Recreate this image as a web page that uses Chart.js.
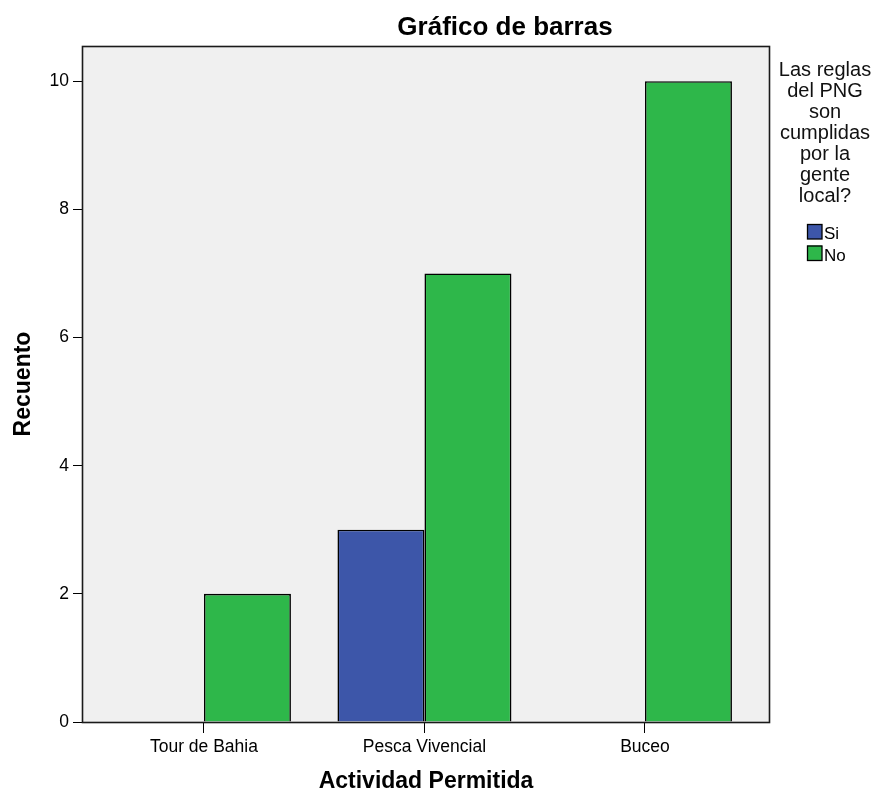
<!DOCTYPE html>
<html>
<head>
<meta charset="utf-8">
<script src="https://cdn.jsdelivr.net/npm/chart.js@4.4.0/dist/chart.umd.min.js"></script>
<style>
html,body{margin:0;padding:0;background:#fff;}
#c{display:block;}
</style>
</head>
<body>
<canvas id="c" width="880" height="793"></canvas>
<script>
// ---- data ----
const categories = ['Tour de Bahia', 'Pesca Vivencial', 'Buceo'];
const seriesLabels = ['Si', 'No'];
const siValues = [null, 3, null];
const noValues = [2, 7, 10];
const yTicks = [0, 2, 4, 6, 8, 10];
const chartTitle = 'Gráfico de barras';
const legendTitleLines = ['Las reglas', 'del PNG', 'son', 'cumplidas', 'por la', 'gente', 'local?'];
const xTitle = 'Actividad Permitida';
const yTitle = 'Recuento';

const FONT = '"Liberation Sans", Arial, Helvetica, sans-serif';
Chart.defaults.font.family = FONT;
Chart.defaults.color = '#000';

function toPoints(values) {
  return values.map((v, i) => ({ x: i, y: v })).filter(p => p.y !== null);
}

const decorPlugin = {
  id: 'decor',
  beforeDraw(chart) {
    const { ctx, chartArea: a } = chart;
    ctx.save();
    ctx.fillStyle = '#f0f0f0';
    ctx.fillRect(a.left, a.top, a.right - a.left, a.bottom - a.top);
    ctx.restore();
  },
  afterDatasetsDraw(chart) {
    const { ctx, chartArea: a } = chart;
    ctx.save();
    ctx.strokeStyle = '#1a1a1a';
    ctx.lineWidth = 1.6;
    ctx.strokeRect(a.left + 0.5, a.top + 0.5, a.right - a.left - 1, a.bottom - a.top);
    ctx.restore();
  },
  afterDraw(chart) {
    const { ctx, chartArea: a } = chart;
    ctx.save();
    // main title
    ctx.fillStyle = '#000';
    ctx.font = 'bold 26px ' + FONT;
    ctx.textAlign = 'center';
    ctx.textBaseline = 'alphabetic';
    ctx.fillText(chartTitle, 505, 35);
    // legend title
    const cx = a.right + 55;
    ctx.fillStyle = '#111';
    ctx.font = '20px ' + FONT;
    legendTitleLines.forEach((line, i) => {
      ctx.fillText(line, cx, 76 + i * 21);
    });
    // legend items
    ctx.font = '17px ' + FONT;
    ctx.textAlign = 'left';
    chart.data.datasets.forEach((ds, i) => {
      const top = 224 + i * 21.5;
      ctx.fillStyle = ds.backgroundColor;
      ctx.fillRect(807, top, 15, 15);
      ctx.strokeStyle = '#000';
      ctx.lineWidth = 1.3;
      ctx.strokeRect(807.5, top + 0.5, 14.5, 14.5);
      ctx.fillStyle = '#000';
      ctx.fillText(ds.label, 824, top + 15);
    });
    ctx.restore();
  }
};

new Chart(document.getElementById('c'), {
  type: 'bar',
  data: {
    datasets: [
      {
        label: seriesLabels[0],
        data: toPoints(siValues),
        backgroundColor: '#3d56a9',
        borderColor: '#000',
        borderWidth: 1.6,
        borderSkipped: 'start'
      },
      {
        label: seriesLabels[1],
        data: toPoints(noValues),
        backgroundColor: '#2eb74a',
        borderColor: '#000',
        borderWidth: 1.6,
        borderSkipped: 'start'
      }
    ]
  },
  options: {
    responsive: false,
    animation: false,
    devicePixelRatio: 1,
    layout: { padding: { top: 46, right: 110, left: 0, bottom: 0 } },
    datasets: { bar: { categoryPercentage: 0.789, barPercentage: 1.0 } },
    plugins: {
      legend: { display: false },
      title: { display: false },
      tooltip: { enabled: false }
    },
    scales: {
      x: {
        type: 'linear',
        min: -0.553,
        max: 2.567,
        offset: false,
        afterBuildTicks(s) { s.ticks = categories.map((c, i) => ({ value: i })); },
        afterFit(s) { s.height = 71; },
        ticks: {
          callback: (v) => categories[v],
          font: { size: 17.5 },
          color: '#000',
          padding: 4,
          maxRotation: 0,
          autoSkip: false
        },
        grid: {
          display: true,
          drawOnChartArea: false,
          drawTicks: true,
          tickLength: 11,
          color: '#000',
          offset: false
        },
        border: { display: false },
        title: {
          display: true,
          text: xTitle,
          font: { size: 23, weight: 'bold', lineHeight: 1.0 },
          color: '#000',
          padding: { top: 0, bottom: 0 }
        }
      },
      y: {
        type: 'linear',
        min: 0,
        max: 10.55,
        afterBuildTicks(s) { s.ticks = yTicks.map(v => ({ value: v })); },
        afterFit(s) { s.width = 82; },
        ticks: {
          font: { size: 17.5 },
          color: '#000',
          padding: 4
        },
        grid: {
          display: true,
          drawOnChartArea: false,
          drawTicks: true,
          tickLength: 9,
          color: '#000'
        },
        border: { display: false },
        title: {
          display: true,
          text: yTitle,
          font: { size: 23, weight: 'bold', lineHeight: 1.0 },
          color: '#000',
          padding: { top: 12, bottom: 0 }
        }
      }
    }
  },
  plugins: [decorPlugin]
});
</script>
</body>
</html>
